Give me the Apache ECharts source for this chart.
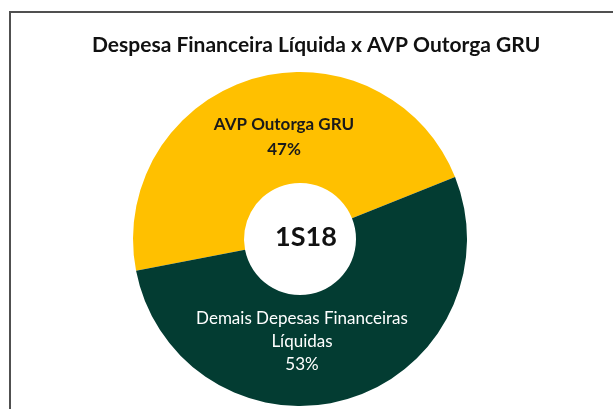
<!DOCTYPE html>
<html>
<head>
<meta charset="utf-8">
<script src="https://cdn.jsdelivr.net/npm/echarts@6/dist/echarts.min.js"></script>
<style>
  html, body { margin: 0; padding: 0; background: #fff; }
  #chart { width: 613px; height: 409px; }
</style>
</head>
<body>
<div id="chart"></div>
<script>
const categories = ["AVP Outorga GRU", "Demais Depesas Financeiras\nLíquidas"];
const shares = [47, 53];
const sliceColors = ["#ffc000", "#033c32"];
const periodLabel = "1S18";

const chart = echarts.init(document.getElementById("chart"));

// where the labels sit in the picture (not the default mid-slice spot)
const labelSpots = [
  { x: 284, y: 137 },
  { x: 302, y: 342 }
];

const option = {
  animation: false,
  title: [
    {
      text: "Despesa Financeira Líquida x AVP Outorga GRU",
      left: 87,
      top: 30,
      textStyle: {
        fontFamily: "Lato",
        fontSize: 21,
        fontWeight: "bold",
        color: "#111"
      }
    },
    {
      text: periodLabel,
      left: 301,
      top: 232,
      textAlign: "center",
      textVerticalAlign: "middle",
      textStyle: {
        fontFamily: "Lato",
        fontSize: 27,
        fontWeight: "bold",
        color: "#111"
      }
    }
  ],
  graphic: [
    {
      type: "rect",
      shape: { x: 10, y: 12, width: 640, height: 440 },
      style: { fill: null, stroke: "#505050", lineWidth: 2 },
      silent: true
    }
  ],
  series: [
    {
      type: "pie",
      center: [300, 239],
      radius: [56, 167],
      startAngle: 191,
      clockwise: true,
      avoidLabelOverlap: false,
      label: {
        show: true,
        position: "inside",
        formatter: "{b}\n{c}%",
        fontFamily: "Lato",
        fontSize: 17
      },
      labelLine: { show: false },
      labelLayout: params => ({
        x: labelSpots[params.dataIndex].x,
        y: labelSpots[params.dataIndex].y,
        align: "center",
        verticalAlign: "middle"
      }),
      data: categories.map((name, i) => ({
        name: name,
        value: shares[i],
        itemStyle: { color: sliceColors[i] },
        label: i === 0
          ? { color: "#1a1a1a", fontWeight: "bold", lineHeight: 25 }
          : { color: "#ffffff", fontWeight: "normal", lineHeight: 23 }
      }))
    }
  ]
};

chart.setOption(option);
</script>
</body>
</html>
